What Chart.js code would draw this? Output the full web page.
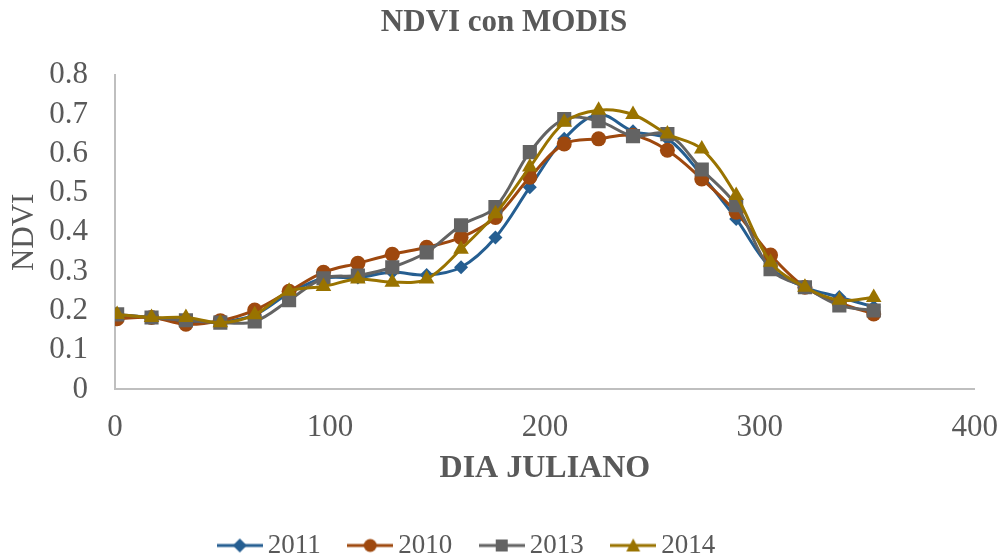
<!DOCTYPE html>
<html>
<head>
<meta charset="utf-8">
<script src="https://cdn.jsdelivr.net/npm/chart.js@4"></script>
<style>
  html, body { margin: 0; padding: 0; background: #fff; }
  #wrap { width: 1003px; height: 559px; }
</style>
</head>
<body>
<div id="wrap"><canvas id="ndvi"></canvas></div>
<script>
// Julian days of the MODIS 16-day composites
const days = [1, 17, 33, 49, 65, 81, 97, 113, 129, 145, 161, 177, 193, 209, 225, 241, 257, 273, 289, 305, 321, 337, 353];

const ndvi2011 = [0.19, 0.183, 0.172, 0.172, 0.19, 0.245, 0.283, 0.285, 0.298, 0.291, 0.311, 0.387, 0.515, 0.638, 0.70, 0.657, 0.638, 0.545, 0.434, 0.31, 0.26, 0.235, 0.21];
const ndvi2010 = [0.18, 0.183, 0.166, 0.175, 0.202, 0.25, 0.298, 0.321, 0.344, 0.362, 0.387, 0.438, 0.54, 0.625, 0.638, 0.647, 0.609, 0.536, 0.451, 0.342, 0.26, 0.22, 0.192];
const ndvi2013 = [0.191, 0.183, 0.176, 0.17, 0.173, 0.227, 0.283, 0.29, 0.311, 0.349, 0.418, 0.464, 0.604, 0.688, 0.683, 0.645, 0.65, 0.56, 0.469, 0.306, 0.26, 0.214, 0.201];
const ndvi2014 = [0.191, 0.183, 0.183, 0.17, 0.19, 0.25, 0.262, 0.281, 0.273, 0.281, 0.357, 0.447, 0.566, 0.68, 0.711, 0.70, 0.65, 0.612, 0.494, 0.324, 0.26, 0.227, 0.234];

const xTicks = [0, 100, 200, 300, 400];

const serif = "'Liberation Serif', 'Times New Roman', serif";
const grey = "#595959";

function pts(vals) {
  return vals.map((v, i) => ({ x: days[i], y: v }));
}

// small canvas: line with marker, used as legend symbol
function legendIcon(color, style) {
  const c = document.createElement("canvas");
  c.width = 46; c.height = 20;
  const g = c.getContext("2d");
  g.strokeStyle = color; g.fillStyle = color; g.lineWidth = 3;
  g.beginPath(); g.moveTo(0, 10); g.lineTo(46, 10); g.stroke();
  g.beginPath();
  if (style === "rectRot") { g.moveTo(23, 3); g.lineTo(30, 10); g.lineTo(23, 17); g.lineTo(16, 10); g.closePath(); }
  else if (style === "circle") { g.arc(23, 10, 6.5, 0, Math.PI * 2); }
  else if (style === "rect") { g.rect(17, 4, 12, 12); }
  else { g.moveTo(23, 3); g.lineTo(30, 16); g.lineTo(16, 16); g.closePath(); }
  g.fill();
  return c;
}

const series = [
  { label: "2011", data: ndvi2011, color: "#255E91", style: "rectRot", r: 7, order: 4 },
  { label: "2010", data: ndvi2010, color: "#9E480E", style: "circle", r: 7.5, order: 3 },
  { label: "2013", data: ndvi2013, color: "#636363", style: "rect", r: 10, order: 2 },
  { label: "2014", data: ndvi2014, color: "#997300", style: "triangle", r: 9, order: 1 }
];

new Chart(document.getElementById("ndvi"), {
  type: "line",
  data: {
    datasets: series.map(s => ({
      label: s.label,
      data: pts(s.data),
      borderColor: s.color,
      backgroundColor: s.color,
      borderWidth: 3,
      pointStyle: s.style,
      pointRadius: s.r,
      pointBorderWidth: 0,
      tension: 0.35,
      order: s.order
    }))
  },
  options: {
    responsive: true,
    maintainAspectRatio: false,
    animation: false,
    layout: { padding: { left: 6, right: 1, top: 2, bottom: -10 } },
    plugins: {
      title: {
        display: true,
        text: "NDVI con MODIS",
        color: grey,
        font: { family: serif, size: 31, weight: "bold" },
        padding: { top: 2, bottom: 34 }
      },
      legend: {
        position: "bottom",
        labels: {
          color: grey,
          font: { family: serif, size: 27 },
          usePointStyle: true,
          pointStyleWidth: 29,
          padding: 35,
          sort: (a, b) => a.datasetIndex - b.datasetIndex,
          // trailing blank on the last entry nudges the row left like the original
          generateLabels: chart => chart.data.datasets.map((ds, i, all) => ({
            text: i === all.length - 1 ? ds.label + "\u2003\u2003  " : ds.label,
            fontColor: grey,
            pointStyle: legendIcon(series[i].color, series[i].style),
            datasetIndex: i,
            lineWidth: 0,
            strokeStyle: "transparent",
            fillStyle: "transparent"
          }))
        }
      },
      tooltip: { enabled: false }
    },
    scales: {
      x: {
        type: "linear",
        min: 0,
        max: 400,
        afterBuildTicks: axis => { axis.ticks = xTicks.map(v => ({ value: v })); },
        grid: { display: false, drawTicks: true, tickLength: 15 },
        border: { color: "#BFBFBF", width: 2 },
        ticks: { color: grey, font: { family: serif, size: 31 }, padding: 5, maxRotation: 0 },
        title: {
          display: true,
          text: "DIA JULIANO",
          color: grey,
          font: { family: serif, size: 32, weight: "bold" },
          padding: { top: -2, bottom: 9 }
        }
      },
      y: {
        min: 0,
        max: 0.8,
        afterFit: scale => { scale.width = 109; },
        ticks: { stepSize: 0.1, autoSkip: false, color: grey, font: { family: serif, size: 31 }, padding: 5 },
        grid: { display: false, drawTicks: true, tickLength: 22 },
        border: { color: "#BFBFBF", width: 2 },
        title: {
          display: true,
          text: "NDVI",
          color: grey,
          font: { family: serif, size: 31 },
          padding: { top: 0, bottom: 4 }
        }
      }
    }
  }
});
</script>
</body>
</html>
